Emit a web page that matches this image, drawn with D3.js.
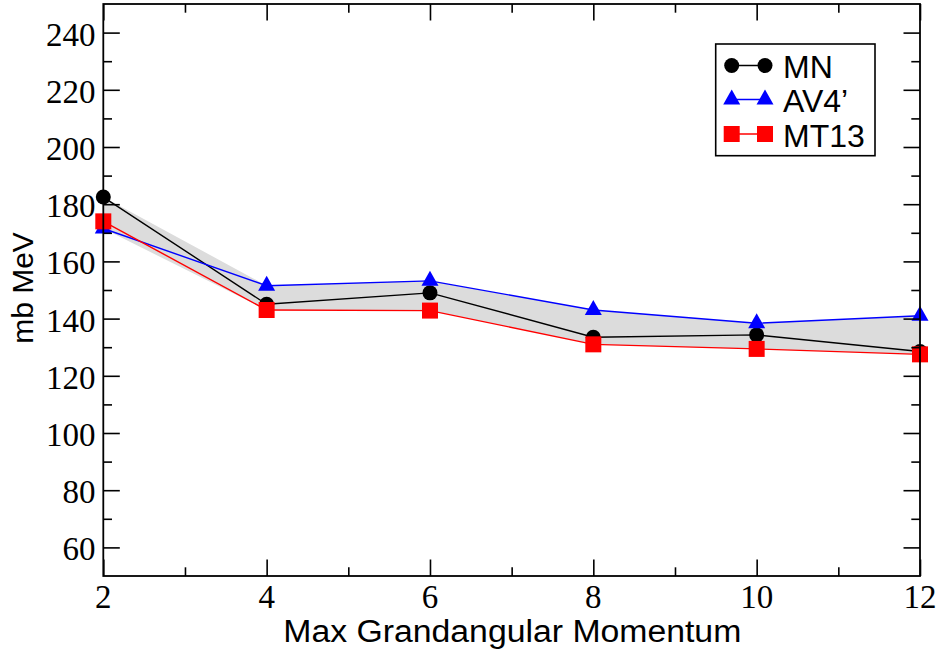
<!DOCTYPE html>
<html>
<head>
<meta charset="utf-8">
<script src="https://cdn.jsdelivr.net/npm/d3@7"></script>
<style>
html,body{margin:0;padding:0;background:#fff;}
svg{display:block;}
</style>
</head>
<body>
<svg id="chart" width="941" height="652"></svg>
<script>
// ---- data ----
const gridK = [2, 4, 6, 8, 10, 12];
const seriesNames = ["MN", "AV4\u2019", "MT13"];
const valuesMN   = [182.5, 145.0, 149.0, 133.5, 134.3, 128.5];
const valuesAV4  = [171.5, 151.5, 153.2, 143.0, 138.4, 141.0];
const valuesMT13 = [174.0, 143.0, 142.8, 131.0, 129.4, 127.5];
const xTickLabels = [2, 4, 6, 8, 10, 12];
const xMinorTicks = [3, 5, 7, 9, 11];
const yTickLabels = [60, 80, 100, 120, 140, 160, 180, 200, 220, 240];
const yMinorTicks = [70, 90, 110, 130, 150, 170, 190, 210, 230];
const xTitle = "Max Grandangular Momentum";
const yTitle = "mb MeV";

// ---- layout ----
const L = 103.3, R = 920, T = 4, B = 576;
const svg = d3.select("#chart");
const x = d3.scaleLinear().domain([2, 12]).range([L, R]);
const y = d3.scaleLinear().domain([50, 250]).range([B, T]);

const series = [
  {name: seriesNames[0], vals: valuesMN,   color: "#000000", sym: "circle"},
  {name: seriesNames[1], vals: valuesAV4,  color: "#0000ff", sym: "triangle"},
  {name: seriesNames[2], vals: valuesMT13, color: "#ff0000", sym: "square"}
];

// band between envelope of the three
const band = gridK.map((k, i) => ({
  k,
  hi: d3.max(series, s => s.vals[i]),
  lo: d3.min(series, s => s.vals[i])
}));
svg.append("path")
  .datum(band)
  .attr("fill", "#dcdcdc")
  .attr("d", d3.area().x(d => x(d.k)).y0(d => y(d.lo)).y1(d => y(d.hi)));

function symPath(sym) {
  if (sym === "circle") return "M-7.5,0A7.5,7.5 0 1,0 7.5,0A7.5,7.5 0 1,0 -7.5,0Z";
  if (sym === "triangle") return "M0,-10L8.5,5L-8.5,5Z";
  return "M-8,-8H8V8H-8Z";
}

const line = d3.line().x((d, i) => x(gridK[i])).y(d => y(d));
series.forEach(s => {
  svg.append("path").datum(s.vals)
    .attr("fill", "none").attr("stroke", s.color).attr("stroke-width", 1.4)
    .attr("d", line);
});
series.forEach(s => {
  svg.append("g").selectAll("path").data(s.vals).join("path")
    .attr("transform", (d, i) => `translate(${x(gridK[i])},${y(d)})`)
    .attr("d", symPath(s.sym))
    .attr("fill", s.color);
});

// ---- frame & axes ----
const axG = svg.append("g").attr("stroke", "#000").attr("stroke-width", 1.6);
// bottom axis with inward ticks
const xAxisB = d3.axisBottom(x).tickValues(xTickLabels).tickSize(-16.5).tickFormat("");
const xAxisBm = d3.axisBottom(x).tickValues(xMinorTicks).tickSize(-8.7).tickFormat("");
const xAxisT = d3.axisTop(x).tickValues(xTickLabels).tickSize(-16.5).tickFormat("");
const xAxisTm = d3.axisTop(x).tickValues(xMinorTicks).tickSize(-8.7).tickFormat("");
const yAxisL = d3.axisLeft(y).tickValues(yTickLabels).tickSize(-16.5).tickFormat("");
const yAxisLm = d3.axisLeft(y).tickValues(yMinorTicks).tickSize(-8.7).tickFormat("");
const yAxisR = d3.axisRight(y).tickValues(yTickLabels).tickSize(-16.5).tickFormat("");
const yAxisRm = d3.axisRight(y).tickValues(yMinorTicks).tickSize(-8.7).tickFormat("");
[[xAxisB, `translate(0,${B})`], [xAxisBm, `translate(0,${B})`],
 [xAxisT, `translate(0,${T})`], [xAxisTm, `translate(0,${T})`],
 [yAxisL, `translate(${L},0)`], [yAxisLm, `translate(${L},0)`],
 [yAxisR, `translate(${R},0)`], [yAxisRm, `translate(${R},0)`]].forEach(([ax, tr]) => {
  const g = svg.append("g").attr("transform", tr).call(ax);
  g.select(".domain").remove();
  g.selectAll("line").attr("stroke", "#000").attr("stroke-width", 1.6);
});
svg.append("rect").attr("x", L).attr("y", T).attr("width", R - L).attr("height", B - T)
  .attr("fill", "none").attr("stroke", "#000").attr("stroke-width", 1.8);

// tick labels
const serif = "'Liberation Serif','Times New Roman',serif";
svg.append("g").selectAll("text").data(xTickLabels).join("text")
  .attr("x", d => x(d)).attr("y", 608)
  .attr("text-anchor", "middle")
  .attr("font-family", serif).attr("font-size", 33)
  .text(d => d);
svg.append("g").selectAll("text").data(yTickLabels).join("text")
  .attr("x", 95.5).attr("y", d => y(d) + 13)
  .attr("text-anchor", "end")
  .attr("font-family", serif).attr("font-size", 33)
  .text(d => d);

// axis titles
const sans = "'Liberation Sans',Arial,Helvetica,sans-serif";
svg.append("text")
  .attr("x", 283.3).attr("y", 641.7)
  .attr("font-family", sans).attr("font-size", 31)
  .attr("textLength", 458).attr("lengthAdjust", "spacingAndGlyphs")
  .text(xTitle);
svg.append("text")
  .attr("transform", "translate(33,288) rotate(-90)")
  .attr("text-anchor", "middle")
  .attr("font-family", sans).attr("font-size", 30)
  .text(yTitle);

// ---- legend ----
const lg = svg.append("g");
lg.append("rect").attr("x", 715.7).attr("y", 44).attr("width", 159.3).attr("height", 111.7)
  .attr("fill", "#fff").attr("stroke", "#000").attr("stroke-width", 1.6);
const legRowY = [65.5, 99.5, 134];
series.forEach((s, i) => {
  const yy = legRowY[i];
  lg.append("line").attr("x1", 731.7).attr("x2", 765).attr("y1", yy).attr("y2", yy)
    .attr("stroke", s.color).attr("stroke-width", 1.4);
  [731.7, 765].forEach(xx => {
    lg.append("path").attr("transform", `translate(${xx},${yy})`)
      .attr("d", symPath(s.sym)).attr("fill", s.color);
  });
  lg.append("text").attr("x", 783).attr("y", yy + 12.5)
    .attr("font-family", sans).attr("font-size", 32)
    .text(s.name);
});
</script>
</body>
</html>
